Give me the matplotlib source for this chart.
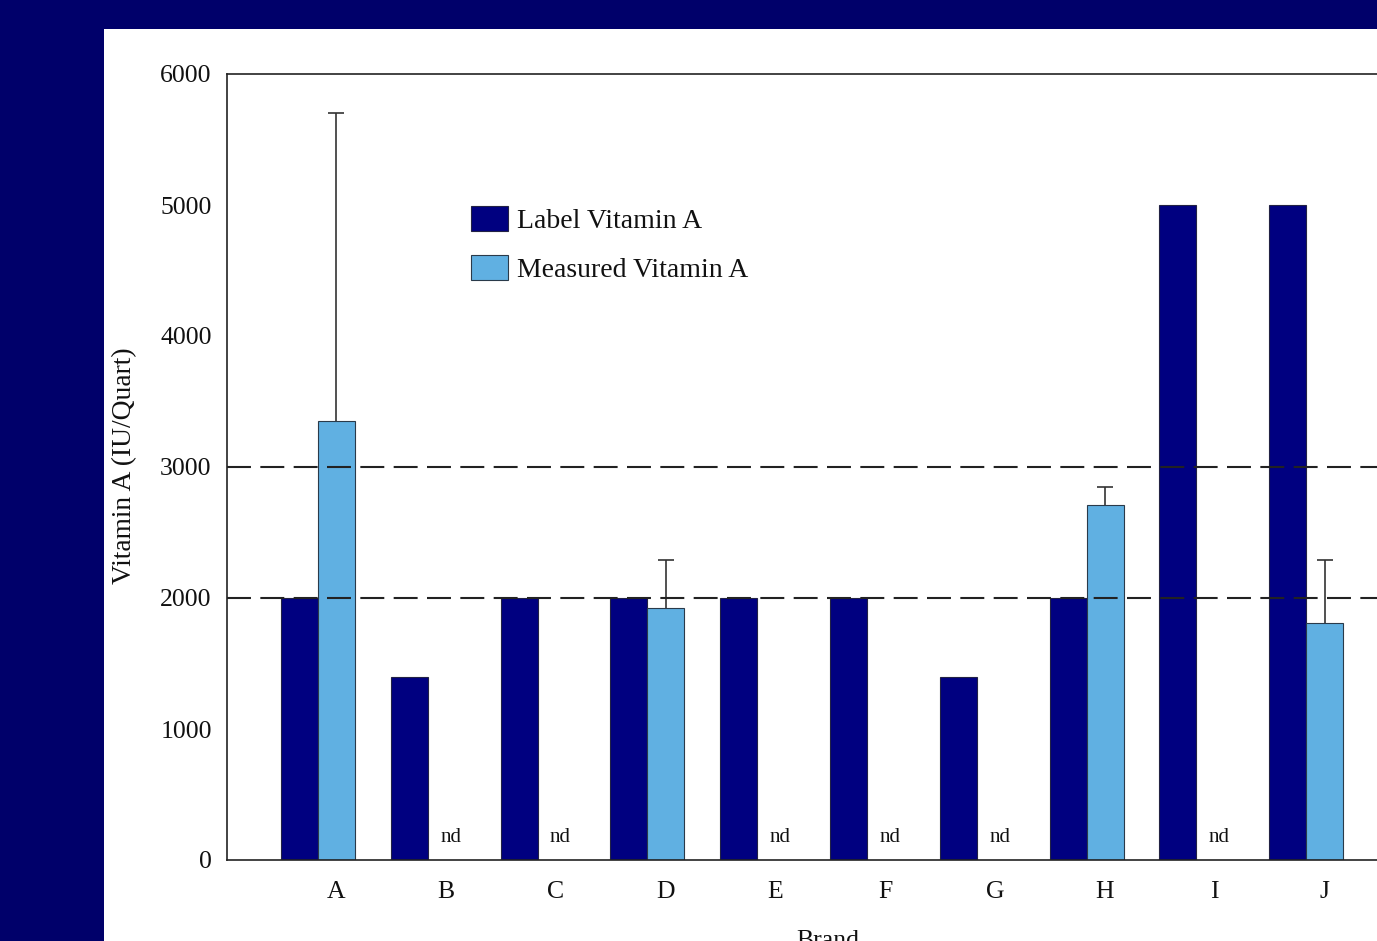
import numpy as np
import matplotlib
matplotlib.use("Agg")
import matplotlib.pyplot as plt
from matplotlib.patches import Rectangle

# Vitamin A content per brand (IU/Quart)
brands = ["A", "B", "C", "D", "E", "F", "G", "H", "I", "J"]
label_vitamin_a = [2000, 1400, 2000, 2000, 2000, 2000, 1400, 2000, 5000, 5000]
measured_vitamin_a = [3350, np.nan, np.nan, 1920, np.nan, np.nan, np.nan, 2710, np.nan, 1810]
measured_error = [2350, np.nan, np.nan, 370, np.nan, np.nan, np.nan, 140, np.nan, 480]
reference_levels = [2000, 3000]
y_ticks = [0, 1000, 2000, 3000, 4000, 5000, 6000]

navy_bg = "#00006A"
label_color = "#000080"
measured_color = "#60B0E2"
serif = ["Liberation Serif", "DejaVu Serif"]

W, H = 1377, 941
fig = plt.figure(figsize=(W / 100, H / 100), dpi=100)
fig.patch.set_facecolor(navy_bg)

# white slide panel behind the plot
fig.patches.append(Rectangle((104 / W, 0), 1, 1 - 29 / H, transform=fig.transFigure,
                             facecolor="white", edgecolor="none", zorder=-10))

x_left, x_right = -0.828, 10.1
ax_left_px, ax_w_px = 227, (x_right - x_left) * 109.8
ax = fig.add_axes([ax_left_px / W, 1 - 860 / H, ax_w_px / W, (860 - 74) / H])
ax.set_facecolor("white")

x = np.arange(len(brands))
w = 0.337
lab = np.array(label_vitamin_a, dtype=float)
meas = np.array(measured_vitamin_a, dtype=float)
err = np.array(measured_error, dtype=float)
has = ~np.isnan(meas)

b1 = ax.bar(x - w / 2, lab, w, color=label_color, edgecolor="#222244", linewidth=0.8,
            label="Label Vitamin A", zorder=2)
b2 = ax.bar(x[has] + w / 2, meas[has], w, color=measured_color, edgecolor="#2a3a4a",
            linewidth=0.8, label="Measured Vitamin A", zorder=2)
# upper-only error bars, drawn behind the bars so only the part above each bar shows
eb = ax.errorbar(x[has] + w / 2, meas[has], yerr=[np.zeros(has.sum()), err[has]],
                 fmt="none", ecolor="#333333", elinewidth=1.2, capsize=6, capthick=1.2,
                 zorder=1.5)
eb[1][0].set_visible(False)  # hide the lower caps

for lvl in reference_levels:
    ax.axhline(lvl, color="#222222", linewidth=1.5, dashes=(11.5, 4.5), zorder=4)

for xi in x[~has]:
    ax.text(xi + w / 2 + 0.04, 170, "nd", ha="center", va="center",
            fontsize=15, family=serif, color="#111111")

ax.set_xlim(x_left, x_right)
ax.set_ylim(0, 6000)
ax.set_yticks(y_ticks)
ax.set_yticklabels([str(t) for t in y_ticks], fontsize=18.5, family=serif, color="#111111")
ax.set_xticks(x + w / 2)
ax.set_xticklabels(brands, fontsize=18.5, family=serif, color="#111111")
ax.tick_params(axis="both", length=0)
ax.tick_params(axis="y", pad=11)
ax.tick_params(axis="x", pad=15)
for s in ax.spines.values():
    s.set_color("#222222")
    s.set_linewidth(1.2)

fig.text(125 / W, 1 - 466 / H, "Vitamin A (IU/Quart)", rotation=90, ha="center",
         va="center", fontsize=19.8, family=serif, color="#111111")
fig.text(828 / W, 1 - 947 / H, "Brand", ha="center", va="baseline",
         fontsize=18.5, family=serif, color="#111111")

leg = ax.legend(handles=[b1, b2], loc="upper left",
                bbox_to_anchor=(457 / W, 1 - 192 / H), bbox_transform=fig.transFigure,
                frameon=False, borderpad=0, handlelength=1.35, handleheight=1.0,
                handletextpad=0.3, labelspacing=0.78,
                prop={"family": serif, "size": 20})
for t in leg.get_texts():
    t.set_color("#111111")

fig.savefig("out.png", dpi=100, facecolor=fig.get_facecolor())
